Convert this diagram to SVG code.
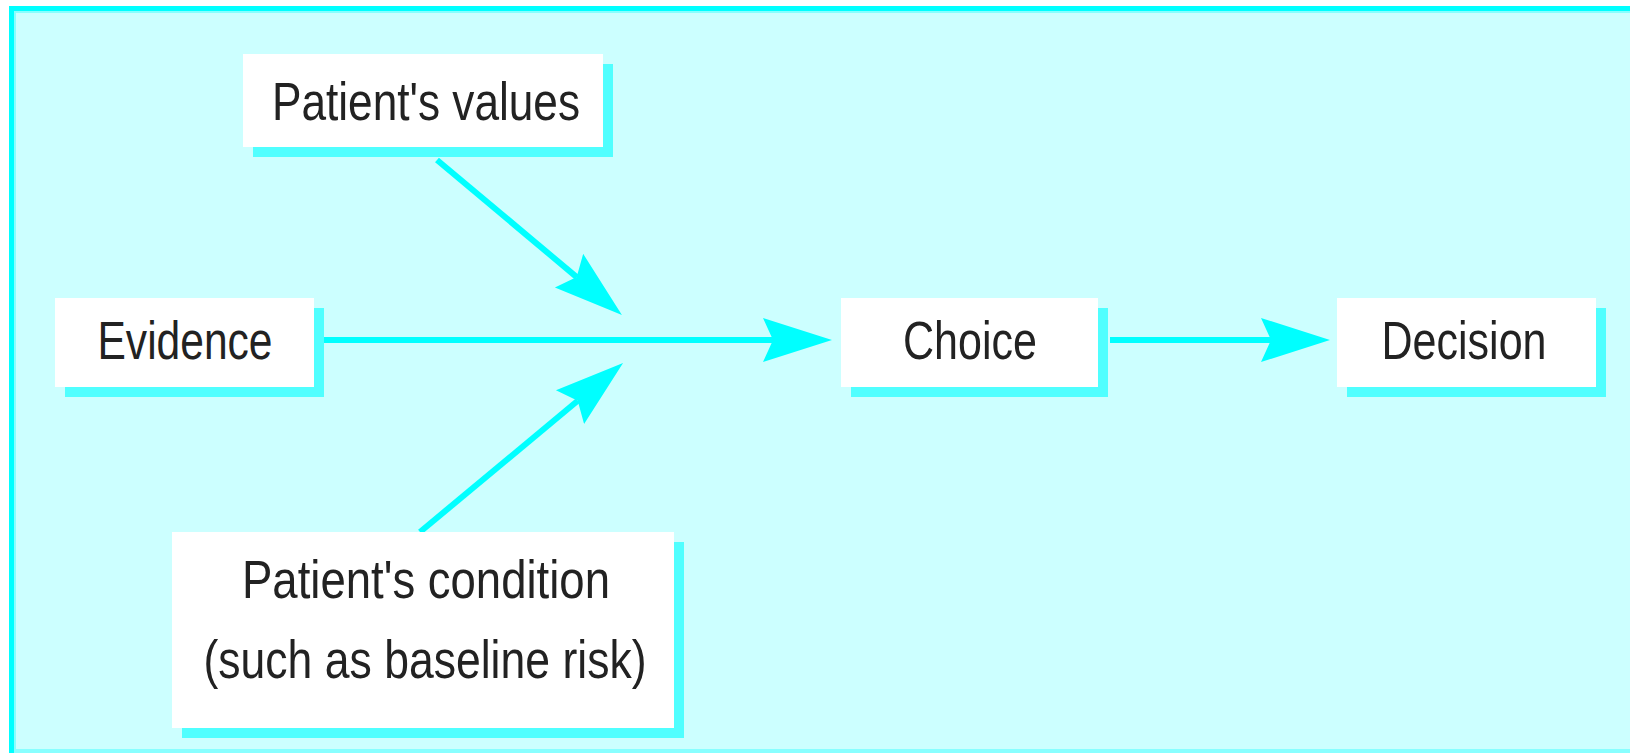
<svg xmlns="http://www.w3.org/2000/svg" width="1630" height="753" viewBox="0 0 1630 753">
<style>
.box{fill:#FFFFFF}
.shadow{fill:#50FFFF}
.lbl{font-family:"Liberation Sans",Arial,sans-serif;font-size:54px;fill:#222222;text-anchor:middle}
.conn{stroke:#00FFFF;stroke-width:6;fill:none}
</style>
<defs>
<marker id="ah" viewBox="0 -23 70 46" markerWidth="70" markerHeight="46" refX="10" refY="0" orient="auto" markerUnits="userSpaceOnUse">
<path d="M0,-22 L69,0 L0,22 L10,0 Z" fill="#00FFFF"/>
</marker>
</defs>
<rect x="0" y="0" width="1630" height="753" fill="#FFFFFF"/>
<rect x="9" y="6" width="1630" height="760" fill="#00FFFF"/>
<rect x="14" y="11" width="1630" height="760" fill="#88FFFF"/>
<rect x="16" y="13" width="1630" height="736" fill="#CCFFFF"/>
<rect x="16" y="749" width="1630" height="4" fill="#88FFFF"/>

<g id="connectors">
<line class="conn" x1="324" y1="340" x2="773" y2="340" marker-end="url(#ah)"/>
<line class="conn" x1="1110" y1="340" x2="1271" y2="340" marker-end="url(#ah)"/>
<line class="conn" x1="437" y1="160" x2="576.7" y2="277.1" marker-end="url(#ah)"/>
<line class="conn" x1="420" y1="532" x2="577.7" y2="400.8" marker-end="url(#ah)"/>
</g>

<g id="values">
<rect class="shadow" x="253" y="64" width="360" height="93"/>
<rect class="box" x="243" y="54" width="360" height="93"/>
<text class="lbl" x="426" y="120" textLength="308" lengthAdjust="spacingAndGlyphs">Patient's values</text>
</g>

<g id="evidence">
<rect class="shadow" x="65" y="308" width="259" height="89"/>
<rect class="box" x="55" y="298" width="259" height="89"/>
<text class="lbl" x="185" y="359" textLength="175" lengthAdjust="spacingAndGlyphs">Evidence</text>
</g>

<g id="choice">
<rect class="shadow" x="851" y="308" width="257" height="89"/>
<rect class="box" x="841" y="298" width="257" height="89"/>
<text class="lbl" x="970" y="359" textLength="134" lengthAdjust="spacingAndGlyphs">Choice</text>
</g>

<g id="decision">
<rect class="shadow" x="1347" y="308" width="259" height="89"/>
<rect class="box" x="1337" y="298" width="259" height="89"/>
<text class="lbl" x="1464" y="359" textLength="165" lengthAdjust="spacingAndGlyphs">Decision</text>
</g>

<g id="condition">
<rect class="shadow" x="182" y="542" width="502" height="196"/>
<rect class="box" x="172" y="532" width="502" height="196"/>
<text class="lbl" x="426" y="598" textLength="368" lengthAdjust="spacingAndGlyphs">Patient's condition</text>
<text class="lbl" x="425" y="678" textLength="443" lengthAdjust="spacingAndGlyphs">(such as baseline risk)</text>
</g>
</svg>
